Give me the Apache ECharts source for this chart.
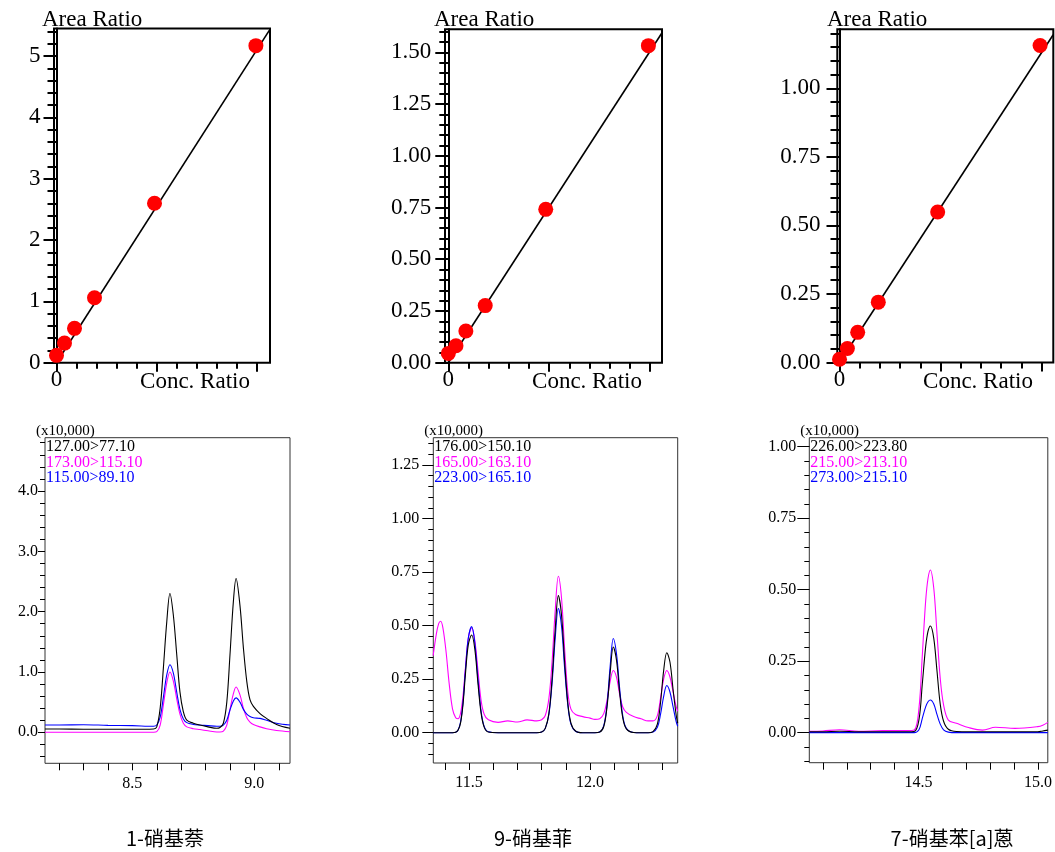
<!DOCTYPE html>
<html><head><meta charset="utf-8">
<script src="https://cdn.jsdelivr.net/npm/echarts@6/dist/echarts.min.js"></script>
<style>html,body{margin:0;padding:0;background:#fff}#c{width:1055px;height:852px}</style>
</head><body><div id="c"></div>
<script>
// ---------- calibration curves (Conc. Ratio vs Area Ratio) ----------
const calX_naph = [0.0, 0.4, 0.9, 1.9, 4.9, 9.97];
const calY_naph = [0.12, 0.32, 0.56, 1.06, 2.60, 5.17];
const fitX_naph = [0, 10.64];
const fitY_naph = [0, 5.42];

const calX_phen = [0.0, 0.38, 0.87, 1.83, 4.83, 9.92];
const calY_phen = [0.045, 0.082, 0.153, 0.276, 0.741, 1.532];
const fitX_phen = [0, 10.58];
const fitY_phen = [0, 1.592];

const calX_benz = [0.0, 0.39, 0.9, 1.92, 4.86, 9.93];
const calY_benz = [0.012, 0.051, 0.11, 0.22, 0.549, 1.156];
const fitX_benz = [0, 10.58];
const fitY_benz = [0, 1.195];

// ---------- chromatograms (x10,000) ----------
const tNaph = [8.142, 8.2, 8.3, 8.4, 8.5, 8.587, 8.600, 8.614, 8.627, 8.641, 8.654, 8.668, 8.682, 8.695, 8.709, 8.723, 8.75, 8.777, 8.81, 8.846, 8.859, 8.873, 8.887, 8.900, 8.914, 8.925, 8.941, 8.955, 8.969, 8.982, 8.996, 9.023, 9.05, 9.091, 9.146];
const naph_127 = [0.055, 0.055, 0.05, 0.05, 0.05, 0.055, 0.09, 0.4, 1.06, 1.83, 2.30, 1.94, 1.28, 0.67, 0.34, 0.2, 0.15, 0.12, 0.09, 0.066, 0.08, 0.15, 0.5, 1.28, 2.17, 2.55, 2.1, 1.4, 0.84, 0.54, 0.43, 0.31, 0.23, 0.13, 0.066];
const naph_173 = [0, 0, 0, 0, 0, 0, 0.01, 0.12, 0.45, 0.82, 1.0, 0.85, 0.55, 0.3, 0.15, 0.09, 0.06, 0.045, 0.025, 0.005, 0.005, 0.02, 0.12, 0.38, 0.64, 0.75, 0.62, 0.4, 0.24, 0.17, 0.13, 0.09, 0.06, 0.03, 0.01];
const naph_115 = [0.12, 0.12, 0.125, 0.115, 0.11, 0.1, 0.12, 0.25, 0.58, 0.95, 1.12, 0.98, 0.66, 0.38, 0.22, 0.16, 0.13, 0.12, 0.11, 0.1, 0.1, 0.12, 0.2, 0.37, 0.52, 0.57, 0.5, 0.38, 0.3, 0.26, 0.24, 0.23, 0.2, 0.15, 0.12];

const tPhen = [11.352, 11.365, 11.375, 11.383, 11.392, 11.405, 11.418, 11.432, 11.445, 11.455, 11.465, 11.475, 11.485, 11.497, 11.511, 11.524, 11.537, 11.55, 11.563, 11.58, 11.62, 11.66, 11.70, 11.74, 11.78, 11.80, 11.815, 11.83, 11.843, 11.856, 11.869, 11.882, 11.895, 11.908, 11.921, 11.94, 11.97, 12.00, 12.02, 12.04, 12.057, 12.07, 12.083, 12.096, 12.109, 12.122, 12.135, 12.15, 12.18, 12.21, 12.24, 12.26, 12.278, 12.291, 12.304, 12.317, 12.33, 12.343, 12.356, 12.362];
const phen_176 = [0, 0, 0, 0, 0, 0, 0, 0, 0.002, 0.012, 0.045, 0.13, 0.27, 0.41, 0.456, 0.39, 0.23, 0.09, 0.025, 0.003, 0, 0, 0, 0, 0, 0.003, 0.02, 0.09, 0.25, 0.48, 0.64, 0.55, 0.33, 0.14, 0.045, 0.008, 0, 0, 0, 0.003, 0.03, 0.12, 0.28, 0.40, 0.34, 0.19, 0.07, 0.018, 0.001, 0, 0, 0.005, 0.04, 0.14, 0.29, 0.373, 0.33, 0.2, 0.08, 0.045];
const phen_165 = [0.36, 0.46, 0.51, 0.52, 0.49, 0.38, 0.23, 0.11, 0.07, 0.065, 0.09, 0.17, 0.3, 0.44, 0.49, 0.43, 0.29, 0.15, 0.085, 0.06, 0.048, 0.055, 0.05, 0.06, 0.055, 0.06, 0.08, 0.16, 0.33, 0.57, 0.73, 0.63, 0.39, 0.19, 0.11, 0.085, 0.075, 0.068, 0.062, 0.065, 0.09, 0.15, 0.24, 0.29, 0.26, 0.18, 0.12, 0.095, 0.075, 0.065, 0.055, 0.055, 0.08, 0.16, 0.25, 0.29, 0.26, 0.19, 0.12, 0.1];
const phen_223 = [0, 0, 0, 0, 0, 0, 0, 0, 0.002, 0.013, 0.05, 0.14, 0.29, 0.44, 0.495, 0.42, 0.25, 0.1, 0.028, 0.004, 0, 0, 0, 0, 0, 0.003, 0.02, 0.085, 0.23, 0.44, 0.58, 0.5, 0.3, 0.13, 0.04, 0.007, 0, 0, 0, 0.003, 0.035, 0.13, 0.31, 0.44, 0.37, 0.21, 0.08, 0.02, 0.001, 0, 0, 0.003, 0.025, 0.085, 0.17, 0.22, 0.19, 0.12, 0.05, 0.03];

const tBenz = [14.043, 14.1, 14.17, 14.25, 14.35, 14.45, 14.482, 14.502, 14.516, 14.53, 14.54, 14.55, 14.564, 14.577, 14.591, 14.605, 14.625, 14.659, 14.713, 14.768, 14.822, 14.904, 14.999, 15.02, 15.041];
const benz_226 = [0.003, 0.003, 0.005, 0.003, 0.003, 0.003, 0.004, 0.045, 0.17, 0.3, 0.355, 0.373, 0.33, 0.22, 0.1, 0.04, 0.012, 0.004, 0.003, 0.003, 0.003, 0.003, 0.003, 0.006, 0.009];
const benz_215 = [0.005, 0.006, 0.01, 0.005, 0.007, 0.007, 0.009, 0.085, 0.27, 0.46, 0.54, 0.569, 0.505, 0.353, 0.19, 0.097, 0.044, 0.033, 0.017, 0.009, 0.019, 0.015, 0.021, 0.026, 0.036];
const benz_273 = [0, 0, 0, 0, 0, 0, 0, 0.01, 0.05, 0.09, 0.108, 0.114, 0.1, 0.065, 0.03, 0.01, 0.002, 0, 0, 0, 0, 0, 0, 0, 0];

// ---------- tick labels ----------
const naphCalTicks = [0, 1, 2, 3, 4, 5];
const naphCalLabels = ['0', '1', '2', '3', '4', '5'];
const phenCalTicks = [0, 0.25, 0.5, 0.75, 1.0, 1.25, 1.5];
const phenCalLabels = ['0.00', '0.25', '0.50', '0.75', '1.00', '1.25', '1.50'];
const benzCalTicks = [0, 0.25, 0.5, 0.75, 1.0];
const benzCalLabels = ['0.00', '0.25', '0.50', '0.75', '1.00'];
const concTicks = [0];
const concLabels = ['0'];

const naphYTicks = [0, 1, 2, 3, 4];
const naphYLabels = ['0.0', '1.0', '2.0', '3.0', '4.0'];
const phenYTicks = [0, 0.25, 0.5, 0.75, 1.0, 1.25];
const phenYLabels = ['0.00', '0.25', '0.50', '0.75', '1.00', '1.25'];
const benzYTicks = [0, 0.25, 0.5, 0.75, 1.0];
const benzYLabels = ['0.00', '0.25', '0.50', '0.75', '1.00'];
const naphXTicks = [8.5, 9.0];
const naphXLabels = ['8.5', '9.0'];
const phenXTicks = [11.5, 12.0];
const phenXLabels = ['11.5', '12.0'];
const benzXTicks = [14.5, 15.0];
const benzXLabels = ['14.5', '15.0'];

const names = ['1-硝基萘', '9-硝基菲', '7-硝基苯[a]蒽'];
const transNaph = ['127.00>77.10', '173.00>115.10', '115.00>89.10'];
const transPhen = ['176.00>150.10', '165.00>163.10', '223.00>165.10'];
const transBenz = ['226.00>223.80', '215.00>213.10', '273.00>215.10'];
const traceColors = ['#000000', '#ff00ff', '#0000ff'];

// ---------- helpers ----------
const FONT = '"Liberation Serif","Times New Roman",serif';
const zip = (a, b) => a.map((x, i) => [x, b[i]]);
function steps(a, b, s) { const r = []; for (let k = 0; a + k * s <= b + 1e-9; k++) r.push(+(a + k * s).toFixed(4)); return r; }
function fmt(vals, labels) {
  return v => { const i = vals.findIndex(a => Math.abs(a - v) < 1e-6); return i >= 0 ? labels[i] : ''; };
}

const grid = [], xAxis = [], yAxis = [], series = [], graphic = [];

function addTop(p) {
  const gi = grid.length, xi = xAxis.length, yi = yAxis.length;
  grid.push({left: p.left, top: p.top, width: p.width, height: p.height, show: true, borderColor: '#000', borderWidth: 2});
  const tk = {color: '#000', width: 2};
  const xb = {type: 'value', gridIndex: gi, position: 'bottom', min: p.xmin, max: p.xmax, splitLine: {show: false}, axisLine: {show: false, onZero: false}};
  xAxis.push(Object.assign({}, xb, {axisTick: {show: true, customValues: steps(1, 9, 1), length: 6, lineStyle: tk}, axisLabel: {show: false}}));
  xAxis.push(Object.assign({}, xb, {axisTick: {show: true, customValues: [0, 5, 10], length: 9, lineStyle: tk},
    axisLabel: {show: true, customValues: concTicks, formatter: fmt(concTicks, concLabels), margin: 6, fontFamily: FONT, fontSize: 23, color: '#000'}}));
  const yb = {type: 'value', gridIndex: gi, position: 'left', offset: p.off, min: 0, max: p.ymax, splitLine: {show: false}};
  yAxis.push(Object.assign({}, yb, {axisLine: {show: true, onZero: false, lineStyle: {color: '#000', width: 2}},
    axisTick: {show: true, customValues: p.yMinor, length: 9, lineStyle: tk}, axisLabel: {show: false}}));
  yAxis.push(Object.assign({}, yb, {axisLine: {show: false, onZero: false},
    axisTick: {show: true, customValues: p.yTicks, length: 13, lineStyle: tk},
    axisLabel: {show: true, customValues: p.yTicks, formatter: fmt(p.yTicks, p.yLabels), margin: p.lm, fontFamily: FONT, fontSize: 23, color: '#000'}}));
  series.push({type: 'line', xAxisIndex: xi, yAxisIndex: yi, data: zip(p.fx, p.fy), showSymbol: false, silent: true,
    lineStyle: {color: '#000', width: 1.6}, z: 2});
  series.push({type: 'scatter', xAxisIndex: xi, yAxisIndex: yi, data: zip(p.cx, p.cy), symbolSize: 15,
    itemStyle: {color: '#ff0000', opacity: 1}, z: 3});
  graphic.push({type: 'text', x: p.arX, y: 20, style: {text: 'Area Ratio', font: '23px ' + FONT, fill: '#000', align: 'left', verticalAlign: 'middle'}});
  graphic.push({type: 'text', x: p.crX, y: 382, style: {text: 'Conc. Ratio', font: '23px ' + FONT, fill: '#000', align: 'center', verticalAlign: 'middle'}});
}

function addBottom(p) {
  const gi = grid.length, xi = xAxis.length, yi = yAxis.length;
  grid.push({left: p.left, top: 437.7, width: p.width, height: p.height, show: true, borderColor: '#333', borderWidth: 1});
  const tk = {color: '#000', width: 1};
  xAxis.push({type: 'value', gridIndex: gi, position: 'bottom', min: p.xmin, max: p.xmax, splitLine: {show: false}, axisLine: {show: false, onZero: false},
    axisTick: {show: true, customValues: p.xMinor, length: 7, lineStyle: tk},
    axisLabel: {show: true, customValues: p.xTicks, formatter: fmt(p.xTicks, p.xLabels), margin: 12, fontFamily: FONT, fontSize: 16, color: '#000'}});
  const yb = {type: 'value', gridIndex: gi, position: 'left', min: p.ymin, max: p.ymax, splitLine: {show: false}, axisLine: {show: false, onZero: false}};
  yAxis.push(Object.assign({}, yb, {axisTick: {show: true, customValues: p.yMinor, length: 5, lineStyle: tk}, axisLabel: {show: false}}));
  yAxis.push(Object.assign({}, yb, {axisTick: {show: true, customValues: p.yTicks, length: p.majLen, lineStyle: tk},
    axisLabel: {show: true, customValues: p.yTicks, formatter: fmt(p.yTicks, p.yLabels), margin: p.lm, fontFamily: FONT, fontSize: 16, color: '#000'}}));
  p.traces.forEach((tr, k) => {
    series.push({type: 'line', xAxisIndex: xi, yAxisIndex: yi, data: zip(p.t, tr), showSymbol: false, smooth: 0.35, silent: true,
      lineStyle: {color: traceColors[k], width: 1.1}, z: 2 + (k === 0 ? 1 : 0)});
  });
  graphic.push({type: 'text', x: p.left - 9, y: 431, style: {text: '(x10,000)', font: '15px ' + FONT, fill: '#000', align: 'left', verticalAlign: 'middle'}});
  p.labels.forEach((s, k) => {
    graphic.push({type: 'text', x: p.left + 1, y: 447 + k * 15.5, style: {text: s, font: '16px ' + FONT, fill: traceColors[k], align: 'left', verticalAlign: 'middle'}});
  });
  graphic.push({type: 'text', x: p.titleX, y: 838, style: {text: p.title, font: '20px "Noto Sans CJK SC", sans-serif', fill: '#000', align: 'center', verticalAlign: 'middle'}});
}

addTop({left: 54, top: 28.5, width: 216, height: 334.2, xmin: -0.125, xmax: 10.675, off: -2.5, ymax: 5.45,
  yTicks: naphCalTicks, yLabels: naphCalLabels, yMinor: steps(0, 5.4, 0.2), lm: 16,
  fx: fitX_naph, fy: fitY_naph, cx: calX_naph, cy: calY_naph, arX: 42, crX: 195});
addTop({left: 445, top: 29.3, width: 217, height: 333.4, xmin: -0.164, xmax: 10.594, off: -3.3, ymax: 1.611,
  yTicks: phenCalTicks, yLabels: phenCalLabels, yMinor: steps(0, 1.6, 0.05), lm: 17,
  fx: fitX_phen, fy: fitY_phen, cx: calX_phen, cy: calY_phen, arX: 434, crX: 587});
addTop({left: 837.3, top: 29.3, width: 216, height: 333.2, xmin: -0.109, xmax: 10.584, off: -2.2, ymax: 1.215,
  yTicks: benzCalTicks, yLabels: benzCalLabels, yMinor: steps(0, 1.2, 0.05), lm: 19,
  fx: fitX_benz, fy: fitY_benz, cx: calX_benz, cy: calY_benz, arX: 827, crX: 978});

addBottom({left: 45, width: 245, height: 325.6, xmin: 8.142, xmax: 9.146, ymin: -0.514, ymax: 4.883,
  xMinor: steps(8.2, 9.1, 0.1), xTicks: naphXTicks, xLabels: naphXLabels,
  yMinor: steps(-0.4, 4.8, 0.2), yTicks: naphYTicks, yLabels: naphYLabels, majLen: 7, lm: 7,
  t: tNaph, traces: [naph_127, naph_173, naph_115], labels: transNaph, title: names[0], titleX: 165});
addBottom({left: 433.3, width: 244.4, height: 325.3, xmin: 11.3525, xmax: 12.362, ymin: -0.1415, ymax: 1.377,
  xMinor: steps(11.4, 12.3, 0.1), xTicks: phenXTicks, xLabels: phenXLabels,
  yMinor: steps(-0.1, 1.35, 0.05), yTicks: phenYTicks, yLabels: phenYLabels, majLen: 11, lm: 14,
  t: tPhen, traces: [phen_176, phen_165, phen_223], labels: transPhen, title: names[1], titleX: 533});
addBottom({left: 809.3, width: 244, height: 325, xmin: 14.0433, xmax: 15.041, ymin: -0.105, ymax: 1.0315,
  xMinor: steps(14.1, 15.0, 0.1), xTicks: benzXTicks, xLabels: benzXLabels,
  yMinor: steps(-0.1, 1.0, 0.05), yTicks: benzYTicks, yLabels: benzYLabels, majLen: 12, lm: 13,
  t: tBenz, traces: [benz_226, benz_215, benz_273], labels: transBenz, title: names[2], titleX: 952});

const chart = echarts.init(document.getElementById('c'), null, {renderer: 'canvas'});
chart.setOption({animation: false, backgroundColor: '#fff', grid, xAxis, yAxis, series, graphic});
</script></body></html>
